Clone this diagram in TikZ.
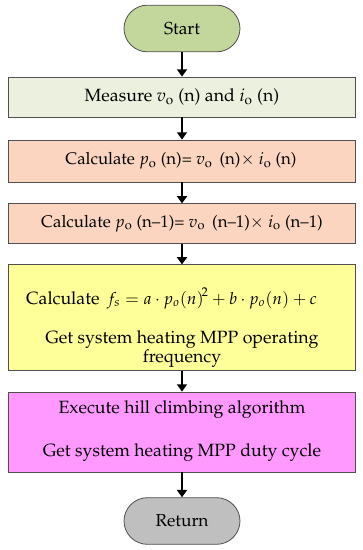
\documentclass[tikz,border=0pt]{standalone}
\usepackage[T1]{fontenc}
\usepackage{mathpazo}
\usetikzlibrary{arrows.meta}
\definecolor{startgreen}{HTML}{C3D69B}
\definecolor{measgreen}{HTML}{EBF1DE}
\definecolor{calcsalmon}{HTML}{FBD5C0}
\definecolor{yellowbox}{HTML}{FFFF99}
\definecolor{pinkbox}{HTML}{FF99FF}
\definecolor{retgray}{HTML}{BFBFBF}
\definecolor{edgegray}{HTML}{505050}
\tikzset{
  px/.style={x=0.75pt,y=-0.75pt},
  term/.style={draw=edgegray, line width=0.6pt, rounded corners=17.6pt, minimum width=87pt, minimum height=35pt, inner sep=0pt, font=\fontsize{13}{15}\selectfont},
  procbox/.style={draw=edgegray, line width=0.6pt, minimum width=260pt, inner sep=0pt},
  txt/.style={inner sep=0pt, font=\fontsize{13.3}{15.5}\selectfont},
  ctxt/.style={inner sep=0pt, font=\fontsize{12.6}{15}\selectfont},
  flow/.style={line width=2pt, -{Triangle[width=7.5pt,length=5.5pt]}},
}
\begin{document}
\begin{tikzpicture}[px]
\useasboundingbox (0,0) rectangle (363,550);
\node[term, fill=startgreen] (start) at (182,28.5) {Start};
\node[procbox, fill=measgreen, minimum height=30pt] (meas) at (182,97) {};
\node[txt] (meast) at (182,97) {Measure $v_{\mathrm{o}}$ (n) and $i_{\mathrm{o}}$ (n)};
\node[procbox, fill=calcsalmon, minimum height=31.5pt] (calc1) at (182,161) {};
\node[ctxt] (calc1t) at (181,161) {Calculate $p_{\mathrm{o}}$ (n)= $v_{\mathrm{o}}$\,\ (n)$\times$ $i_{\mathrm{o}}$ (n)};
\node[procbox, fill=calcsalmon, minimum height=29.5pt] (calc2) at (182,223.5) {};
\node[ctxt] (calc2t) at (182,223.5) {Calculate $p_{\mathrm{o}}$ (n\textendash1)= $v_{\mathrm{o}}$\,\ (n\textendash1)$\times$ $i_{\mathrm{o}}$ (n\textendash1)};
\node[procbox, fill=yellowbox, minimum height=79pt] (yel) at (182,317.5) {};
\node[txt] (yelt1) at (171.5,298) {Calculate\ \,{\fontsize{12.5}{14}\selectfont$f_s = a\cdot p_o\!\left(n\right)^{\!2} + b\cdot p_o\!\left(n\right) + c$}};
\node[txt, align=center] (yelt2) at (182,349) {Get system heating MPP operating\\[-1.5pt]frequency};
\node[procbox, fill=pinkbox, minimum height=60pt] (pink) at (182,432) {};
\node[txt] (pinkt1) at (182,410) {Execute hill climbing algorithm};
\node[txt] (pinkt2) at (182,453) {Get system heating MPP duty cycle};
\node[term, fill=retgray] (ret) at (182,521) {Return};
\draw[flow] (start) -- (meas);
\draw[flow] (meas) -- (calc1);
\draw[flow] (calc1) -- (calc2);
\draw[flow] (calc2) -- (yel);
\draw[flow] (yel) -- (pink);
\draw[flow] (pink) -- (ret);
\end{tikzpicture}
\end{document}
